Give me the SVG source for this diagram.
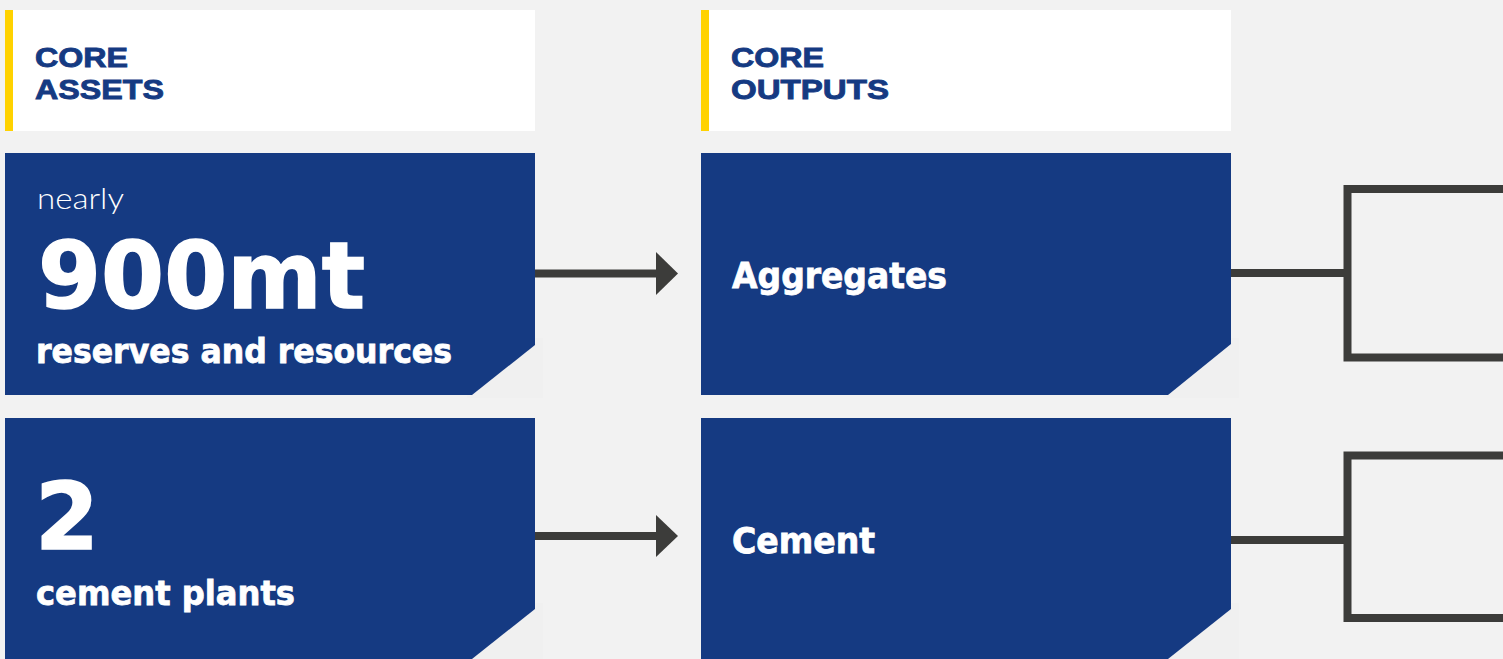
<svg xmlns="http://www.w3.org/2000/svg" width="1503" height="659" viewBox="0 0 1503 659">
  <style>
    .hdr { fill: #ffffff; }
    .bar { fill: #ffd200; }
    .box { fill: #153a82; }
    .shade { fill: #f0f0f0; }
    .htxt { font-family: "Liberation Sans", Arial, sans-serif; font-weight: bold; font-size: 28.5px; fill: #153a82; stroke: #153a82; stroke-width: 0.9px; }
    .wtxt { font-family: "DejaVu Sans", "Liberation Sans", sans-serif; font-weight: bold; fill: #ffffff; stroke: #ffffff; stroke-width: 0.8px; }
    .light { font-family: Lato, "Open Sans", "Liberation Sans", sans-serif; font-weight: 300; font-size: 29px; fill: #ffffff; }
    .conn { fill: none; stroke: #3c3c3a; stroke-width: 8; }
    .head { fill: #3c3c3a; }
  </style>
  <rect x="0" y="0" width="1503" height="659" fill="#f2f2f2"/>

  <g id="header-assets">
    <rect class="hdr" x="5" y="10" width="530" height="121"/>
    <rect class="bar" x="5" y="10" width="8" height="121"/>
    <text class="htxt" x="35" y="67" textLength="93" lengthAdjust="spacingAndGlyphs">CORE</text>
    <text class="htxt" x="35" y="99" textLength="129" lengthAdjust="spacingAndGlyphs">ASSETS</text>
  </g>

  <g id="header-outputs">
    <rect class="hdr" x="701" y="10" width="530" height="121"/>
    <rect class="bar" x="701" y="10" width="8" height="121"/>
    <text class="htxt" x="731" y="67" textLength="93" lengthAdjust="spacingAndGlyphs">CORE</text>
    <text class="htxt" x="731" y="99" textLength="158" lengthAdjust="spacingAndGlyphs">OUTPUTS</text>
  </g>

  <g id="asset-reserves">
    <rect class="shade" x="467" y="338" width="76" height="60"/>
    <polygon class="box" points="5,153 535,153 535,345 472,395 5,395"/>
    <text class="light" x="37" y="209" textLength="87" lengthAdjust="spacingAndGlyphs">nearly</text>
    <text class="wtxt" x="38" y="307.5" font-size="92" textLength="327" lengthAdjust="spacingAndGlyphs" style="stroke-width:1.5px">900mt</text>
    <text class="wtxt" x="36" y="363" font-size="34" textLength="416" lengthAdjust="spacingAndGlyphs">reserves and resources</text>
  </g>

  <g id="asset-plants">
    <rect class="shade" x="467" y="603" width="76" height="56"/>
    <polygon class="box" points="5,418 535,418 535,609 472,659 5,659"/>
    <text class="wtxt" x="35" y="549" font-size="92" style="stroke-width:1.5px">2</text>
    <text class="wtxt" x="36" y="605" font-size="34" textLength="259" lengthAdjust="spacingAndGlyphs">cement plants</text>
  </g>

  <g id="output-aggregates">
    <rect class="shade" x="1163" y="338" width="76" height="60"/>
    <polygon class="box" points="701,153 1231,153 1231,344 1168,395 701,395"/>
    <text class="wtxt" x="732" y="288" font-size="35" textLength="215" lengthAdjust="spacingAndGlyphs">Aggregates</text>
  </g>

  <g id="output-cement">
    <rect class="shade" x="1163" y="603" width="76" height="56"/>
    <polygon class="box" points="701,418 1231,418 1231,609 1168,659 701,659"/>
    <text class="wtxt" x="732" y="553" font-size="35" textLength="143" lengthAdjust="spacingAndGlyphs">Cement</text>
  </g>

  <g id="connectors">
    <line class="conn" x1="535" y1="273.5" x2="658" y2="273.5"/>
    <polygon class="head" points="656,252 678,273.5 656,295"/>
    <line class="conn" x1="535" y1="536" x2="658" y2="536"/>
    <polygon class="head" points="656,515 678,536 656,557"/>
    <path class="conn" d="M1231 273 H1347.5"/>
    <path class="conn" d="M1503 189 H1347.5 V357.5 H1503"/>
    <path class="conn" d="M1231 540 H1347.5"/>
    <path class="conn" d="M1503 455.5 H1347.5 V618 H1503"/>
  </g>
</svg>
